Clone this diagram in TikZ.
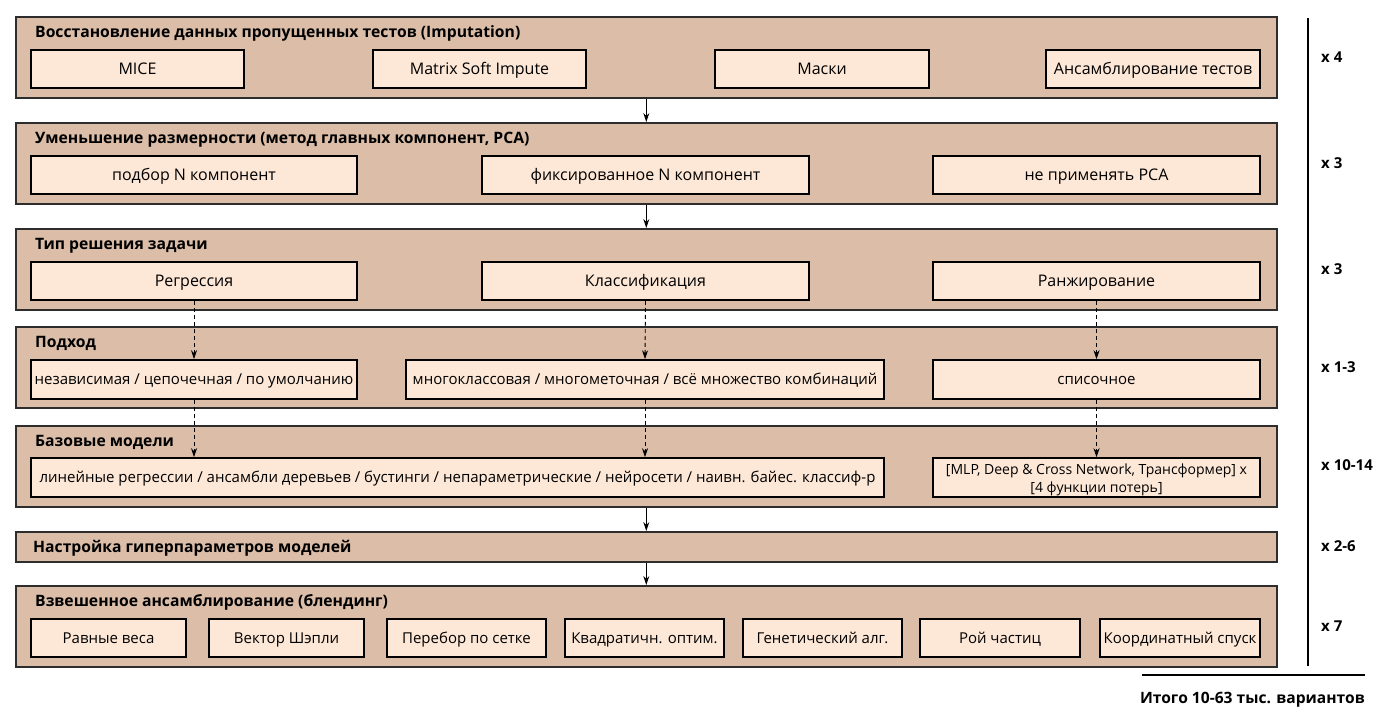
\documentclass[tikz,border=0pt]{standalone}
\usepackage{fontspec}
\setmainfont{Open Sans}
\usetikzlibrary{arrows.meta}
\definecolor{panelfill}{RGB}{219,189,168}
\definecolor{boxfill}{RGB}{253,231,214}
\definecolor{panelline}{RGB}{45,45,45}
\begin{document}
\begin{tikzpicture}[x=1pt,y=-1pt,
  panel/.style={draw=panelline,fill=panelfill,line width=1.6pt,anchor=north west,inner sep=0pt},
  inbox/.style={draw=black,fill=boxfill,line width=1.6pt,inner sep=0pt,minimum height=38pt,
    text height=11pt,text depth=0.4pt,font=\fontsize{15}{18}\selectfont},
  bigbox/.style={inbox,text height=11.6pt,text depth=0.2pt,font=\fontsize{16}{19}\selectfont},
  ptitle/.style={anchor=base west,font=\fontsize{15.7}{18}\selectfont\bfseries,inner sep=0pt},
  mult/.style={anchor=base west,font=\fontsize{15}{18}\selectfont\bfseries,inner sep=0pt},
  arr/.style={-{Stealth[length=9pt,width=6pt]},line width=0.9pt},
  darr/.style={arr,dash pattern=on 4pt off 3pt}]
\useasboundingbox (0,0) rectangle (1385,721);

% stage panels
\node[panel,minimum width=1261pt,minimum height=81pt] (p1) at (15,16) {};
\node[panel,minimum width=1261pt,minimum height=81pt] (p2) at (15,122) {};
\node[panel,minimum width=1261pt,minimum height=81pt] (p3) at (15,228) {};
\node[panel,minimum width=1261pt,minimum height=81pt] (p4) at (15,326) {};
\node[panel,minimum width=1261pt,minimum height=81pt] (p5) at (15,425) {};
\node[panel,minimum width=1261pt,minimum height=30pt] (p6) at (15,531) {};
\node[panel,minimum width=1261pt,minimum height=81pt] (p7) at (15,585) {};

% panel titles
\node[ptitle] (t1) at (35,37.5) {Восстановление данных пропущенных тестов (Imputation)};
\node[ptitle] (t2) at (35,143.5) {Уменьшение размерности (метод главных компонент, PCA)};
\node[ptitle] (t3) at (35,249.5) {Тип решения задачи};
\node[ptitle] (t4) at (35,347.5) {Подход};
\node[ptitle] (t5) at (35,446.5) {Базовые модели};
\node[ptitle] (t6) at (33,552) {Настройка гиперпараметров моделей};
\node[ptitle] (t7) at (35,606.5) {Взвешенное ансамблирование (блендинг)};

% imputation options
\node[bigbox,minimum width=213pt] (a1) at (137.5,69) {MICE};
\node[bigbox,minimum width=213pt] (a2) at (479.5,69) {Matrix Soft Impute};
\node[bigbox,minimum width=214pt] (a3) at (822,69) {Маски};
\node[bigbox,minimum width=214pt] (a4) at (1153,69) {Ансамблирование тестов};

% PCA options
\node[bigbox,minimum width=326pt] (b1) at (194,175) {подбор N компонент};
\node[bigbox,minimum width=327pt] (b2) at (645.5,175) {фиксированное N компонент};
\node[bigbox,minimum width=327pt] (b3) at (1096.5,175) {не применять PCA};

% task types
\node[bigbox,minimum width=326pt] (c1) at (194,281) {Регрессия};
\node[bigbox,minimum width=327pt] (c2) at (645.5,281) {Классификация};
\node[bigbox,minimum width=327pt] (c3) at (1096.5,281) {Ранжирование};

% approaches
\node[inbox,minimum width=326pt,minimum height=39pt] (d1) at (194,379.5) {независимая / цепочечная / по умолчанию};
\node[inbox,minimum width=478pt,minimum height=39pt] (d2) at (645,379.5) {многоклассовая / многометочная / всё множество комбинаций};
\node[inbox,minimum width=327pt,minimum height=39pt] (d3) at (1096.5,379.5) {списочное};

% base models
\node[inbox,minimum width=853pt,minimum height=39pt] (e1) at (457.5,477.5) {линейные регрессии / ансамбли деревьев / бустинги / непараметрические / нейросети / наивн. байес. классиф-р};
\node[inbox,minimum width=327pt,minimum height=39pt] (e2) at (1096.5,477.5) {};
\node[inner sep=0pt,align=center,font=\fontsize{14}{18}\selectfont,yshift=-2.5pt]
  (e2t) at (e2.center) {[MLP, Deep \& Cross Network, Трансформер] x\\{[}4 функции потерь{]}};

% blending methods
\node[inbox,minimum width=155pt] (g1) at (108.5,638) {Равные веса};
\node[inbox,minimum width=155pt] (g2) at (286.5,638) {Вектор Шэпли};
\node[inbox,minimum width=159pt] (g3) at (466.5,638) {Перебор по сетке};
\node[inbox,minimum width=159pt] (g4) at (644.5,638) {Квадратичн. оптим.};
\node[inbox,minimum width=159pt] (g5) at (822.5,638) {Генетический алг.};
\node[inbox,minimum width=160pt] (g6) at (1000,638) {Рой частиц};
\node[inbox,minimum width=160pt] (g7) at (1180,638) {Координатный спуск};

% stage-to-stage arrows
\draw[arr] (p1.south) -- (p2.north);
\draw[arr] (p2.south) -- (p3.north);
\draw[arr] (p5.south) -- (p6.north);
\draw[arr] (p6.south) -- (p7.north);

% branch arrows
\draw[darr] (c1.south) -- (d1.north);
\draw[darr] (c2.south) -- (d2.north);
\draw[darr] (c3.south) -- (d3.north);
\draw[darr] (d1.south) -- (d1.south |- e1.north);
\draw[darr] (d2.south) -- (d2.south |- e1.north);
\draw[darr] (d3.south) -- (e2.north);

% multiplicity scale
\coordinate (vtop) at (1308,18);
\coordinate (vbot) at (1308,666);
\draw[line width=1.6pt] (vtop) -- (vbot);
\node[mult] (m1) at (1321,62.5) {x 4};
\node[mult] (m2) at (1321,168.5) {x 3};
\node[mult] (m3) at (1321,274.5) {x 3};
\node[mult] (m4) at (1321,372.5) {x 1-3};
\node[mult] (m5) at (1321,470.5) {x 10-14};
\node[mult] (m6) at (1321,551.5) {x 2-6};
\node[mult] (m7) at (1321,631.5) {x 7};

% total
\coordinate (hl) at (1142,675);
\coordinate (hr) at (1365,675);
\draw[line width=1.6pt] (hl) -- (hr);
\node[anchor=base east,inner sep=0pt,font=\fontsize{15.6}{18}\selectfont\bfseries] (total) at (1365,703) {Итого 10-63 тыс. вариантов};
\end{tikzpicture}
\end{document}
